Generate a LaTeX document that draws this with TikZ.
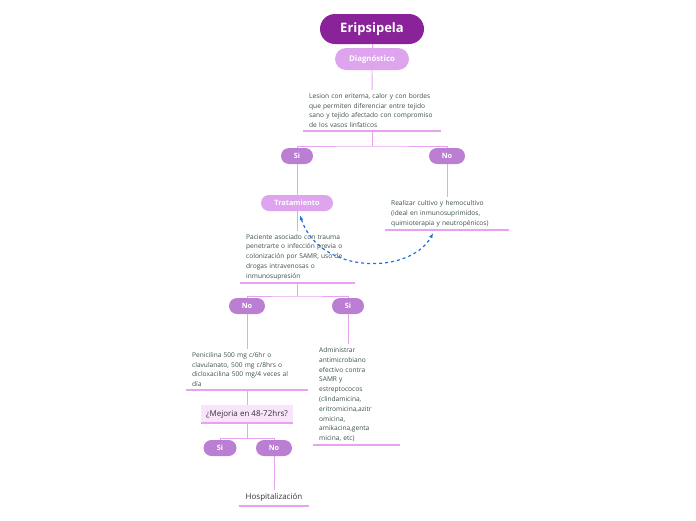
\documentclass[tikz,border=0pt]{standalone}
\usepackage{fontspec}
\setmainfont{Open Sans}
\usetikzlibrary{arrows.meta}

\definecolor{raiz}{RGB}{138,34,153}
\definecolor{rama}{RGB}{222,164,238}
\definecolor{opcion}{RGB}{186,126,210}
\definecolor{linea}{RGB}{232,162,240}
\definecolor{caja}{RGB}{250,228,252}
\definecolor{texto}{RGB}{58,80,74}
\definecolor{flecha}{RGB}{32,112,222}

\tikzset{
  pill/.style={rounded corners=#1, text=white, inner sep=0pt, font=\fontsize{7.3}{9}\bfseries\selectfont},
  topic/.style={anchor=south west, align=left, text=texto, inner xsep=6pt, inner ysep=3pt,
    font=\fontsize{6.6}{9.8}\selectfont},
  conn/.style={draw=linea, line width=0.9pt},
  uline/.style={draw=linea, line width=1.6pt},
}

\begin{document}
\begin{tikzpicture}[x=1pt, y=-1pt]
        \useasboundingbox (0,0) rectangle (696,520);

        % nodos principales
        \node[pill=15pt, fill=raiz, minimum width=104pt, minimum height=30pt, font=\fontsize{13}{15}\bfseries\selectfont] (eri) at (372,29) {Eripsipela};
        \node[pill=11pt, fill=rama, minimum width=74pt, minimum height=22pt, font=\fontsize{7.8}{9}\bfseries\selectfont] (diag) at (372,59) {Diagnóstico};
        \node[topic, text width=126pt] (lesion) at (303,131) {Lesion con eritema, calor y con bordes\\que permiten diferenciar entre tejido\\sano y tejido afectado con compromiso\\de los vasos linfaticos};

        % primera decision
        \node[pill=8pt, fill=opcion, minimum width=32pt, minimum height=16pt] (si1) at (297,156) {Si};
        \node[pill=8pt, fill=opcion, minimum width=36pt, minimum height=16pt] (no1) at (447,156) {No};
        \node[pill=8pt, fill=rama, minimum width=72pt, minimum height=16pt] (trat) at (297,203) {Tratamiento};
        \node[topic, text width=112pt] (cultivo) at (385,230) {Realizar cultivo y hemocultivo\\(ideal en inmunosuprimidos,\\quimioterapia y neutropénicos)};
        \node[topic, text width=103pt] (paciente) at (240,283) {Paciente asociado con trauma\\penetrarte o infección previa o\\colonización por SAMR, uso de\\drogas intravenosas o\\inmunosupresión};

        % segunda decision
        \node[pill=8pt, fill=opcion, minimum width=36pt, minimum height=16pt] (no2) at (247,306) {No};
        \node[pill=8pt, fill=opcion, minimum width=32pt, minimum height=16pt] (si2) at (348,306) {Si};
        \node[topic, text width=110pt] (peni) at (186,390) {Penicilina 500 mg c/6hr o\\clavulanato, 500 mg c/8hrs o\\dicloxacilina 500 mg/4 veces al\\día};
        \node[topic, text width=75pt] (admin) at (313,445) {Administrar\\antimicrobiano\\efectivo contra\\SAMR y\\estreptococos\\(clindamicina,\\eritromicina,azitr\\omicina,\\amikacina,genta\\micina, etc)};

        % mejoria
        \node[fill=caja, minimum width=92pt, minimum height=18pt, inner sep=0pt, text=black!80, font=\fontsize{8}{9}\selectfont] (mejoria) at (247,414) {¿Mejoria en 48-72hrs?};
        \node[pill=8pt, fill=opcion, minimum width=33pt, minimum height=16pt] (si3) at (220,448) {Si};
        \node[pill=8pt, fill=opcion, minimum width=36pt, minimum height=16pt] (no3) at (274,448) {No};
        \node[anchor=south, text=black!80, minimum width=70pt, inner ysep=4pt, font=\fontsize{8}{9}\selectfont] (hosp) at (274,506) {Hospitalización};

        % subrayados
        \foreach \n in {lesion,cultivo,paciente,peni,admin,mejoria,hosp}
          \draw[uline] (\n.south west) -- (\n.south east);

        % conectores
        \draw[conn] (eri.south) -- (diag.north);
        \draw[conn] (diag.south) -- (lesion.north);
        \draw[conn] (lesion.south) -- ++(0,15) coordinate (j1);
        \draw[conn] (si1.north) |- (j1) -| (no1.north);
        \draw[conn] (si1.south) -- (trat.north);
        \draw[conn] (no1.south) -- (cultivo.north -| no1.south);
        \draw[conn] (trat.south) -- (paciente.north -| trat.south);
        \draw[conn] (paciente.south -| trat.south) -- ++(0,13) coordinate (j2);
        \draw[conn] (no2.north) |- (j2) -| (si2.north);
        \draw[conn] (no2.south) -- (peni.north -| no2.south);
        \draw[conn] (si2.south) -- (admin.north -| si2.south);
        \draw[conn] (peni.south -| mejoria.north) -- (mejoria.north);
        \draw[conn] (mejoria.south) -- ++(0,15) coordinate (j3);
        \draw[conn] (si3.north) |- (j3) -| (no3.north);
        \draw[conn] (no3.south) -- (hosp.north);

        % relacion
        \draw[flecha, line width=1.2pt, dash pattern=on 3pt off 3pt, {Latex[length=5pt]}-{Latex[length=5pt]}]
          ([xshift=3pt, yshift=-4pt]trat.south) .. controls (320,275) and (410,275) .. ([xshift=-14pt, yshift=-3pt]cultivo.south);
\end{tikzpicture}
\end{document}
